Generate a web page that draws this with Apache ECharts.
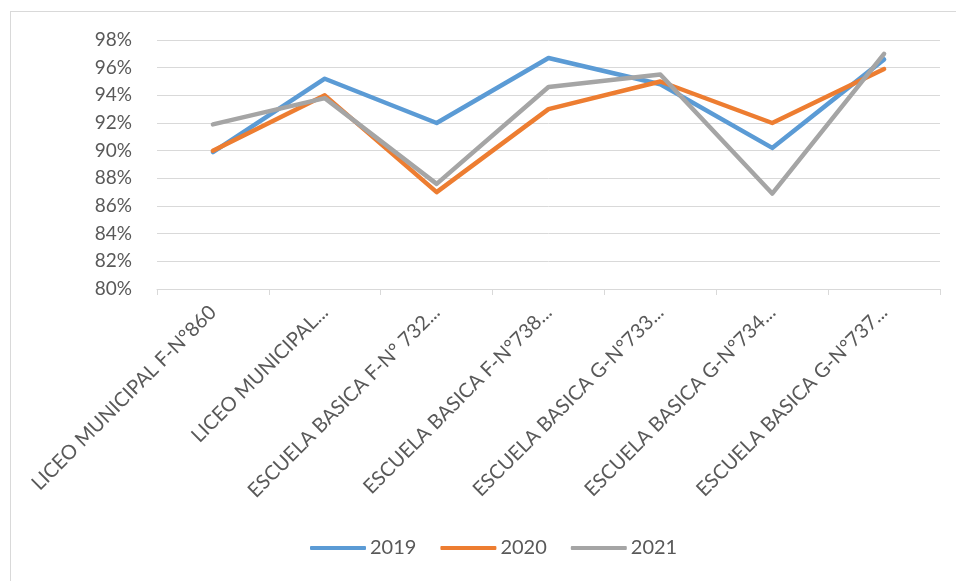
<!DOCTYPE html>
<html>
<head>
<meta charset="utf-8">
<script src="https://cdn.jsdelivr.net/npm/echarts@6/dist/echarts.min.js"></script>
<style>
html,body{margin:0;padding:0;background:#fff;}
#chart{width:956px;height:581px;}
</style>
</head>
<body>
<div id="chart"></div>
<script>
const categories = [
  'LICEO MUNICIPAL F-N°860',
  'LICEO MUNICIPAL...',
  'ESCUELA BASICA F-N° 732...',
  'ESCUELA BASICA F-N°738...',
  'ESCUELA BASICA G-N°733...',
  'ESCUELA BASICA G-N°734...',
  'ESCUELA BASICA G-N°737...'
];
const s2019 = [89.9, 95.2, 92.0, 96.7, 94.8, 90.2, 96.6];
const s2020 = [90.0, 94.0, 87.0, 93.0, 95.0, 92.0, 95.9];
const s2021 = [91.9, 93.8, 87.6, 94.6, 95.5, 86.9, 97.0];
const yMin = 80, yMax = 98, yStep = 2;

const chart = echarts.init(document.getElementById('chart'));
const font = 'Lato, "Open Sans", sans-serif';
const mk = (name, data, color) => ({
  name, type: 'line', data, symbol: 'none',
  lineStyle: {width: 4.5, color, cap: 'round', join: 'round'},
  itemStyle: {color}
});
chart.setOption({
  animation: false,
  textStyle: {fontFamily: font},
  graphic: [
    {type: 'line', shape: {x1: 10, y1: 11.5, x2: 956, y2: 11.5}, style: {stroke: '#d9d9d9', lineWidth: 1}},
    {type: 'line', shape: {x1: 10.5, y1: 11, x2: 10.5, y2: 581}, style: {stroke: '#d9d9d9', lineWidth: 1}}
  ],
  grid: {left: 157, right: 16, top: 40, bottom: 292},
  legend: {
    bottom: 18, left: 305,
    itemWidth: 56, itemHeight: 4, itemGap: 24,
    textStyle: {fontSize: 20, color: '#595959', fontFamily: font, padding: [0,0,0,-1]},
    icon: 'roundRect',
    data: ['2019', '2020', '2021']
  },
  xAxis: {
    type: 'category', data: categories, boundaryGap: true,
    axisLine: {lineStyle: {color: '#d9d9d9', width: 1}},
    axisTick: {show: true, length: 6, lineStyle: {color: '#d9d9d9'}},
    axisLabel: {rotate: 45, interval: 0, margin: 20, fontSize: 20, color: '#595959', fontFamily: font}
  },
  yAxis: {
    type: 'value', min: yMin, max: yMax, interval: yStep,
    axisLine: {show: false}, axisTick: {show: false},
    splitLine: {lineStyle: {color: '#d9d9d9', width: 1}},
    axisLabel: {formatter: v => v + '%', fontSize: 19, color: '#595959', margin: 25, fontFamily: font}
  },
  series: [
    mk('2019', s2019, '#5B9BD5'),
    mk('2020', s2020, '#ED7D31'),
    mk('2021', s2021, '#A5A5A5')
  ]
});
</script>
</body>
</html>
